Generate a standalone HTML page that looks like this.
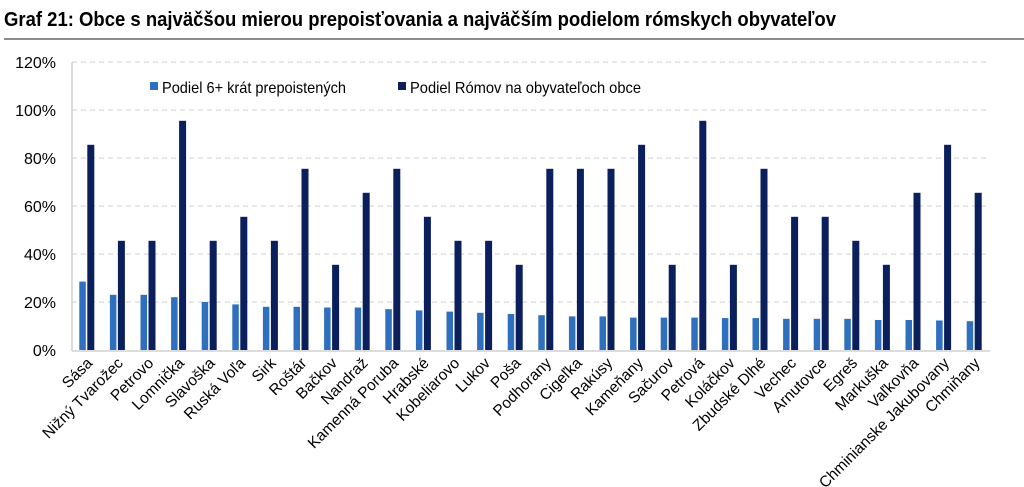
<!DOCTYPE html>
<html><head><meta charset="utf-8"><style>
body{margin:0;background:#fff;width:1024px;height:487px;overflow:hidden}
svg{display:block;font-family:"Liberation Sans",Arial,sans-serif}
</style></head><body>
<svg width="1024" height="487" viewBox="0 0 1024 487">
<text x="4" y="26" font-size="20" font-weight="bold" fill="#000" textLength="832" lengthAdjust="spacingAndGlyphs">Graf 21: Obce s najväčšou mierou prepoisťovania a najväčším podielom rómskych obyvateľov</text>
<line x1="4" y1="39" x2="1024" y2="39" stroke="#666" stroke-width="1.5"/>
<g id="grid" stroke="#ccc" stroke-dasharray="5,4" stroke-width="1"></g>
<line x1="72" y1="62" x2="72" y2="351" stroke="#d0d0d0" stroke-width="1.5"/>
<line x1="72" y1="351" x2="990" y2="351" stroke="#d0d0d0" stroke-width="1.5"/>
<g id="yl" font-size="16" fill="#000" text-anchor="end"></g>
<g id="bars"></g>
<g id="xl" font-size="15.5" fill="#000" text-anchor="end"></g>
<rect x="150" y="82" width="8" height="8" fill="#2e6fbe"/>
<text x="162" y="93" font-size="16" textLength="184" lengthAdjust="spacingAndGlyphs">Podiel 6+ krát prepoistených</text>
<rect x="398" y="82" width="8" height="8" fill="#0b1f5c"/>
<text x="410" y="93" font-size="16" textLength="231" lengthAdjust="spacingAndGlyphs">Podiel Rómov na obyvateľoch obce</text>
</svg>
<script>
var ns="http://www.w3.org/2000/svg";
function el(p,t,a,tx){var e=document.createElementNS(ns,t);for(var k in a)e.setAttribute(k,a[k]);if(tx)e.textContent=tx;document.getElementById(p).appendChild(e);}
function Y(v){return 350-v*2.4;}
for(var i=0;i<=6;i++){var y=Y(i*20);if(i>0)el("grid","line",{x1:72,x2:990,y1:y,y2:y});el("yl","text",{x:56,y:y+6},(i*20)+"%");}
var n=["Sása","Nižný Tvarožec","Petrovo","Lomnička","Slavoška","Ruská Voľa","Sirk","Roštár","Bačkov","Nandraž","Kamenná Poruba","Hrabské","Kobeliarovo","Lukov","Poša","Podhorany","Cigeľka","Rakúsy","Kameňany","Sačurov","Petrová","Koláčkov","Zbudské Dlhé","Vechec","Arnutovce","Egreš","Markuška","Vaľkovňa","Chminianske Jakubovany","Chmiňany"];
var a=[28.5,23,23,22,20,19,18,18,17.7,17.7,17,16.5,16,15.5,15,14.5,14,14,13.5,13.5,13.5,13.3,13.3,13,13,13,12.5,12.5,12.3,12];
var b=[85.5,45.5,45.5,95.5,45.5,55.5,45.5,75.5,35.5,65.5,75.5,55.5,45.5,45.5,35.5,75.5,75.5,75.5,85.5,35.5,95.5,35.5,75.5,55.5,55.5,45.5,35.5,65.5,85.5,65.5];
var w=30.6;
for(var i=0;i<30;i++){var c=72+w*(i+0.5);
el("bars","rect",{x:c-8,y:Y(a[i]),width:6.5,height:350-Y(a[i]),fill:"#2e6fbe"});
el("bars","rect",{x:c,y:Y(b[i]),width:7,height:350-Y(b[i]),fill:"#0b1f5c"});
el("xl","text",{x:c+6,y:364,transform:"rotate(-45 "+(c+6)+" 364)"},n[i]);}
</script>
</body></html>
